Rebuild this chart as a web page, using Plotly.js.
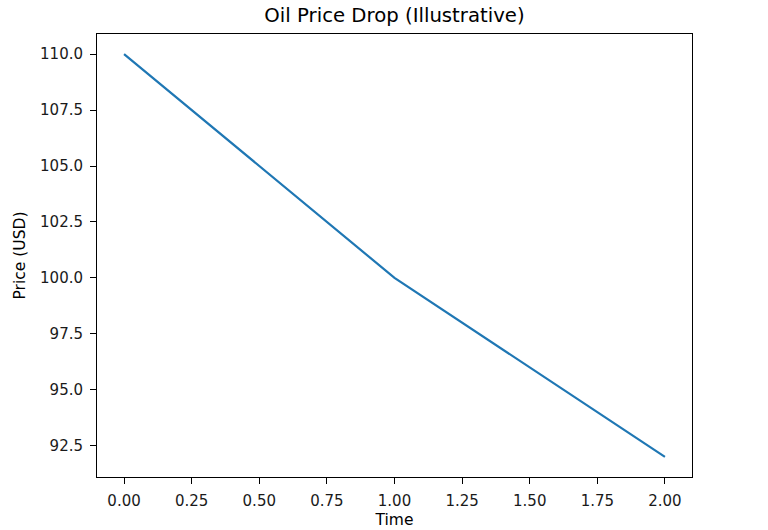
<!DOCTYPE html>
<html>
<head>
<meta charset="utf-8">
<script src="https://cdn.plot.ly/plotly-3.0.1.min.js"></script>
<style>html,body{margin:0;padding:0;background:#fff;}#chart{width:768px;height:530px;}</style>
</head>
<body>
<div id="chart"></div>
<script>
const timeValues = [0, 1, 2];
const priceValues = [110, 100, 92];
const xTickValues = [0, 0.25, 0.5, 0.75, 1.0, 1.25, 1.5, 1.75, 2.0];
const yTickValues = [92.5, 95.0, 97.5, 100.0, 102.5, 105.0, 107.5, 110.0];

const font = "DejaVu Sans, sans-serif";
const trace = {
  x: timeValues,
  y: priceValues,
  type: 'scatter',
  mode: 'lines',
  line: {color: '#1f77b4', width: 2.2},
  hoverinfo: 'skip'
};
const axisCommon = {
  showline: true, mirror: true, linecolor: '#000', linewidth: 1,
  showgrid: false, zeroline: false,
  ticks: 'outside', ticklen: 6, tickwidth: 1, tickcolor: '#000',
  tickfont: {family: font, size: 15, color: '#1a1a1a'},
  ticklabelstandoff: 4
};
const layout = {
  width: 768, height: 530,
  margin: {l: 97, r: 76, t: 34, b: 53},
  paper_bgcolor: '#fff', plot_bgcolor: '#fff',
  showlegend: false,
  title: {text: 'Oil Price Drop (Illustrative)', font: {family: font, size: 19.7, color: '#000'},
          x: 0.5, xref: 'paper', y: 1, yref: 'paper', yanchor: 'bottom', pad: {b: 12}},
  xaxis: Object.assign({}, axisCommon, {
    range: [-0.1, 2.1], tickvals: xTickValues,
    ticktext: xTickValues.map(v => v.toFixed(2)),
    title: {text: 'Time', font: {family: font, size: 15.5, color: '#000'}, standoff: 5}
  }),
  yaxis: Object.assign({}, axisCommon, {
    range: [91.1, 110.9], tickvals: yTickValues,
    ticktext: yTickValues.map(v => v.toFixed(1)),
    title: {text: 'Price (USD)', font: {family: font, size: 15.5, color: '#000'}, standoff: 10}
  })
};
Plotly.newPlot('chart', [trace], layout, {displayModeBar: false, staticPlot: true});
</script>
</body>
</html>
